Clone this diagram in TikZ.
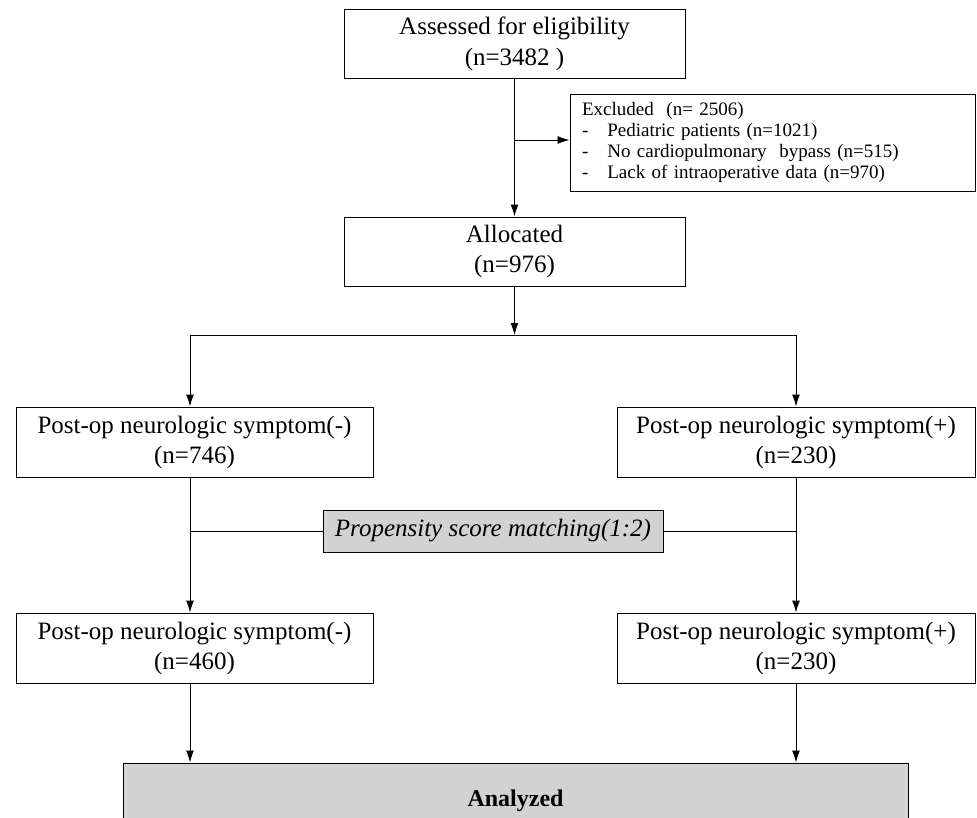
\documentclass[tikz,border=0pt]{standalone}
\usepackage{fontspec}
\setmainfont{Liberation Serif}
\usetikzlibrary{arrows.meta}

\begin{document}
\begin{tikzpicture}[x=1pt,y=-1pt]

% \draw[help lines, color=gray!30] (0,0) grid (977,817);

\tikzstyle{box}=[draw, line width=1pt, rectangle, inner sep=0pt, align=center, font=\fontsize{25}{30}\selectfont]
\tikzstyle{greybox}=[box, fill=gray!35]
\tikzstyle{arr}=[line width=1pt, -{Latex[length=12pt,width=8pt]}]
\tikzstyle{line}=[line width=1pt]

\useasboundingbox (0,0) rectangle (977,817);
\clip (0,0) rectangle (977,817);

% screening
\node[box, minimum width=341, minimum height=69, font=\fontsize{25}{31}\selectfont] (assess) at (514.5,43.5) {Assessed for eligibility\\(n=3482 )};
\node[box, minimum width=405, minimum height=97, align=left, text width=381, font=\fontsize{19}{21}\selectfont] (excl) at (772.5,142.5)
  {Excluded~~(n= 2506)\\
   -\hspace{19pt}Pediatric patients (n=1021)\\
   -\hspace{19pt}No cardiopulmonary~ bypass (n=515)\\
   -\hspace{19pt}Lack of intraoperative data (n=970)};
\node[box, minimum width=341, minimum height=69] (alloc) at (514.5,251.5) {Allocated\\(n=976)};

% groups
\node[box, minimum width=357, minimum height=70] (neg1) at (194.5,442) {Post-op neurologic symptom(-)\\(n=746)};
\node[box, minimum width=358, minimum height=70] (pos1) at (796,442) {Post-op neurologic symptom(+)\\(n=230)};
\node[greybox, minimum width=340, minimum height=42, font=\fontsize{25}{30}\selectfont\itshape] (psm) at (493,531) {Propensity score matching(1:2)};
\node[box, minimum width=357, minimum height=70] (neg2) at (194.5,648) {Post-op neurologic symptom(-)\\(n=460)};
\node[box, minimum width=358, minimum height=70] (pos2) at (796,648) {Post-op neurologic symptom(+)\\(n=230)};
\node[greybox, minimum width=785, minimum height=76, font=\fontsize{24}{29}\selectfont\bfseries] (ana) at (515.5,801) {Analyzed};

% connectors
\coordinate (split) at (514.5,140);
\coordinate (fork) at (514.5,335);
\coordinate (forkl) at (190,335);
\coordinate (forkr) at (796,335);
\draw[arr] (assess) -- (alloc);
\draw[arr] (split) -- (split -| excl.west);
\draw[arr] (alloc) -- (fork);
\draw[line] (forkl) -- (forkr);
\draw[arr] (forkl) -- (forkl |- neg1.north);
\draw[arr] (forkr) -- (forkr |- pos1.north);
\draw[arr] (forkl |- neg1.south) -- (forkl |- neg2.north);
\draw[arr] (forkr |- pos1.south) -- (forkr |- pos2.north);
\draw[line] (psm.west) -- (psm.west -| forkl);
\draw[line] (psm.east) -- (psm.east -| forkr);
\draw[arr] (forkl |- neg2.south) -- (forkl |- ana.north);
\draw[arr] (forkr |- pos2.south) -- (forkr |- ana.north);

\end{tikzpicture}
\end{document}
